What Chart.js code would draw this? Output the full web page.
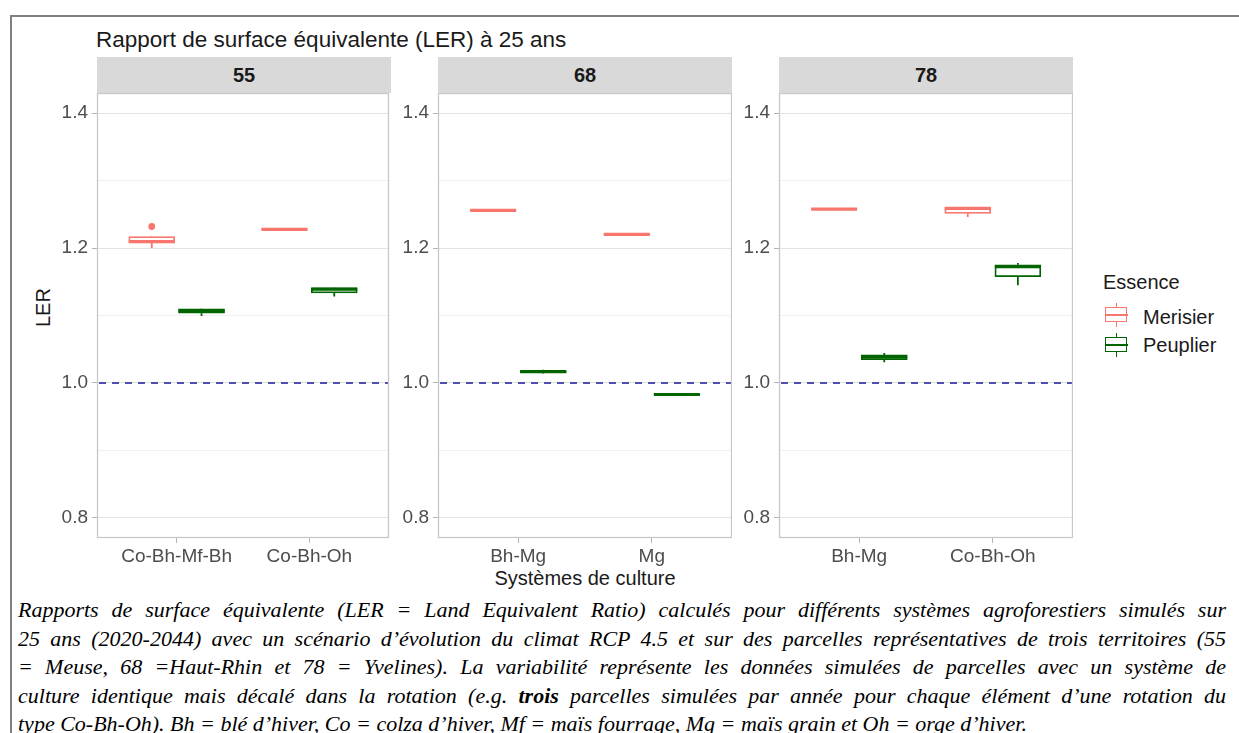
<!DOCTYPE html>
<html>
<head>
<meta charset="utf-8">
<script src="https://cdn.jsdelivr.net/npm/chart.js@4.4.0/dist/chart.umd.min.js"></script>
<style>
body { margin: 0; background: #fff; width: 1239px; height: 733px; overflow: hidden; position: relative;
  font-family: "Liberation Sans", Arial, sans-serif; }
#frame { position: absolute; left: 10px; top: 15px; width: 1250px; height: 740px;
  border-left: 2px solid #808080; border-top: 2px solid #808080; }
.txt { position: absolute; white-space: nowrap; }
.strip { position: absolute; top: 57px; height: 36px; width: 294px; background: #d9d9d9;
  font-weight: bold; font-size: 20px; line-height: 36px; text-align: center; color: #1a1a1a; }
canvas { position: absolute; }
.key { position: absolute; left: 1105px; width: 23px; height: 24px; }
.key .wh { position: absolute; left: 10.5px; top: 0; width: 1.6px; height: 24px; }
.key .bx { position: absolute; left: 0; top: 4px; width: 20px; height: 13px; background: #fff; border: 1.5px solid; }
.key .md { position: absolute; left: 0; top: 11px; width: 23px; height: 1.6px; }
#caption { position: absolute; left: 18px; top: 596px; width: 1208px;
  font-family: "Liberation Serif", "Times New Roman", serif; font-style: italic; font-size: 22px; color: #000; }
#caption div { height: 28.5px; line-height: 28.5px; text-align: justify; text-align-last: justify; white-space: nowrap; }
#caption div.last { text-align-last: left; }
</style>
</head>
<body>
<div id="frame"></div>
<div class="txt" style="left:96px;top:27px;font-size:22.5px;line-height:26px;color:#1a1a1a;">Rapport de surface équivalente (LER) à 25 ans</div>
<div class="txt" style="left:31px;top:303px;font-size:20px;line-height:24px;color:#1a1a1a;transform:rotate(-90deg);transform-origin:center;width:24px;text-align:center;">LER</div>
<div class="txt" style="left:435px;top:566px;width:300px;text-align:center;font-size:20px;line-height:24px;color:#1a1a1a;">Systèmes de culture</div>

<div class="txt" style="left:1103px;top:270px;font-size:20px;line-height:24px;color:#1a1a1a;">Essence</div>
<div class="key" style="top:303px;">
  <div class="wh" style="background:#F8766D"></div><div class="bx" style="border-color:#F8766D"></div><div class="md" style="background:#F8766D"></div>
</div>
<div class="txt" style="left:1143px;top:305px;font-size:20px;line-height:24px;color:#1a1a1a;">Merisier</div>
<div class="key" style="top:333px;">
  <div class="wh" style="background:#006400"></div><div class="bx" style="border-color:#006400"></div><div class="md" style="background:#006400"></div>
</div>
<div class="txt" style="left:1143px;top:333px;font-size:20px;line-height:24px;color:#1a1a1a;">Peuplier</div>

<div id="panels"></div>

<div id="caption">
<div>Rapports de surface équivalente (LER = Land Equivalent Ratio) calculés pour différents systèmes agroforestiers simulés sur</div>
<div>25 ans (2020-2044) avec un scénario d&rsquo;évolution du climat RCP 4.5 et sur des parcelles représentatives de trois territoires (55</div>
<div>= Meuse, 68 =Haut-Rhin et 78 = Yvelines). La variabilité représente les données simulées de parcelles avec un système de</div>
<div>culture identique mais décalé dans la rotation (e.g. <b>trois</b> parcelles simulées par année pour chaque élément d&rsquo;une rotation du</div>
<div class="last">type Co-Bh-Oh). Bh = blé d&rsquo;hiver, Co = colza d&rsquo;hiver, Mf = maïs fourrage, Mg = maïs grain et Oh = orge d&rsquo;hiver.</div>
</div>

<script>
// facets and categories
const panels = ['55', '68', '78'];
const systems = [['Co-Bh-Mf-Bh', 'Co-Bh-Oh'], ['Bh-Mg', 'Mg'], ['Bh-Mg', 'Co-Bh-Oh']];
const yTicks = [0.8, 0.9, 1.0, 1.1, 1.2, 1.3, 1.4];
const refLine = 1.0;

// box stats, two per facet in order 55, 68, 78
const merisierMin = [1.2000, 1.2270, 1.2552, 1.2197, 1.2572, 1.2460];
const merisierQ1  = [1.2075, 1.2274, 1.2555, 1.2200, 1.2575, 1.2515];
const merisierMed = [1.2095, 1.2278, 1.2558, 1.2203, 1.2578, 1.2590];
const merisierQ3  = [1.2170, 1.2282, 1.2561, 1.2206, 1.2581, 1.2605];
const merisierMax = [1.2180, 1.2285, 1.2564, 1.2209, 1.2584, 1.2610];
const merisierOut = [[1.232], [], [], [], [], []];

const peuplierMin = [1.0993, 1.1280, 1.0140, 0.9822, 1.0306, 1.1447];
const peuplierQ1  = [1.1035, 1.1335, 1.0152, 0.9825, 1.0345, 1.1575];
const peuplierMed = [1.1070, 1.1390, 1.0168, 0.9828, 1.0385, 1.1725];
const peuplierQ3  = [1.1100, 1.1410, 1.0182, 0.9831, 1.0415, 1.1753];
const peuplierMax = [1.1105, 1.1415, 1.0195, 0.9834, 1.0445, 1.1778];
const peuplierOut = [[], [], [], [], [], []];

const colMerisier = '#F8766D';
const colPeuplier = '#006400';

const panelLeft = [97, 438, 779];
const panelTop = 93;
const panelW = 294, panelH = 445;
const axisW = 41, axisH = 34;

const boxPlugin = {
  id: 'boxes',
  afterDatasetsDraw(chart) {
    const ctx = chart.ctx;
    const y = chart.scales.y;
    const area = chart.chartArea;
    chart.data.datasets.forEach((ds, di) => {
      if (!ds.stats) return;
      const meta = chart.getDatasetMeta(di);
      meta.data.forEach((el, i) => {
        const s = ds.stats[i];
        const half = el.width / 2;
        ctx.save();
        ctx.strokeStyle = ds.borderColor;
        ctx.lineWidth = 1.8;
        ctx.beginPath();
        ctx.moveTo(el.x, y.getPixelForValue(s[3]));
        ctx.lineTo(el.x, y.getPixelForValue(s[4]));
        ctx.moveTo(el.x, y.getPixelForValue(s[1]));
        ctx.lineTo(el.x, y.getPixelForValue(s[0]));
        ctx.stroke();
        ctx.lineWidth = 3.2;
        ctx.beginPath();
        ctx.moveTo(el.x - half, y.getPixelForValue(s[2]));
        ctx.lineTo(el.x + half, y.getPixelForValue(s[2]));
        ctx.stroke();
        ctx.restore();
      });
    });
    // reference line
    const yr = y.getPixelForValue(refLine);
    ctx.save();
    ctx.strokeStyle = '#4f4fb0';
    ctx.lineWidth = 2;
    ctx.setLineDash([7, 6]);
    ctx.beginPath();
    ctx.moveTo(area.left + 2, yr);
    ctx.lineTo(area.right, yr);
    ctx.stroke();
    ctx.restore();
  },
  afterDraw(chart) {
    const a = chart.chartArea;
    const ctx = chart.ctx;
    ctx.save();
    ctx.strokeStyle = '#c8c8c8';
    ctx.lineWidth = 1.3;
    ctx.strokeRect(Math.round(a.left) + 0.5, Math.round(a.top) + 0.5, Math.round(a.right - a.left) - 1, Math.round(a.bottom - a.top) - 1);
    ctx.restore();
  }
};

function isMajor(v) { return Math.round(v * 10) % 2 === 0; }

function boxData(p, q1, q3, min, med, max, offset) {
  const pts = [], st = [];
  for (let j = 0; j < 2; j++) {
    const k = p * 2 + j;
    pts.push({ x: j + 1 + offset, y: [q1[k], q3[k]] });
    st.push([min[k], q1[k], med[k], q3[k], max[k]]);
  }
  return { pts, st };
}

function outData(p, outs, offset) {
  const pts = [];
  for (let j = 0; j < 2; j++) {
    outs[p * 2 + j].forEach(v => pts.push({ x: j + 1 + offset, y: v }));
  }
  return pts;
}

const holder = document.getElementById('panels');
panels.forEach((name, p) => {
  const strip = document.createElement('div');
  strip.className = 'strip';
  strip.style.left = panelLeft[p] + 'px';
  strip.style.width = panelW + 'px';
  strip.textContent = name;
  holder.appendChild(strip);

  const cv = document.createElement('canvas');
  cv.width = axisW + panelW;
  cv.height = panelH + axisH;
  cv.style.left = (panelLeft[p] - axisW) + 'px';
  cv.style.top = panelTop + 'px';
  holder.appendChild(cv);

  const m = boxData(p, merisierQ1, merisierQ3, merisierMin, merisierMed, merisierMax, -0.1875);
  const q = boxData(p, peuplierQ1, peuplierQ3, peuplierMin, peuplierMed, peuplierMax, 0.1875);

  const chart = new Chart(cv.getContext('2d'), {
    type: 'scatter',
    data: {
      datasets: [
        { type: 'bar', label: 'Merisier', data: m.pts, stats: m.st, grouped: false, barThickness: 46,
          backgroundColor: '#ffffff', borderColor: colMerisier, borderWidth: 1.8, borderSkipped: false },
        { type: 'bar', label: 'Peuplier', data: q.pts, stats: q.st, grouped: false, barThickness: 46,
          backgroundColor: '#ffffff', borderColor: colPeuplier, borderWidth: 1.8, borderSkipped: false },
        { type: 'scatter', label: 'Merisier outliers', data: outData(p, merisierOut, -0.1875),
          pointRadius: 3.4, backgroundColor: colMerisier, borderWidth: 0 },
        { type: 'scatter', label: 'Peuplier outliers', data: outData(p, peuplierOut, 0.1875),
          pointRadius: 3.4, backgroundColor: colPeuplier, borderWidth: 0 }
      ]
    },
    options: {
      responsive: false,
      animation: false,
      layout: { padding: 0 },
      plugins: { legend: { display: false }, tooltip: { enabled: false } },
      scales: {
        x: {
          type: 'linear', min: 0.4, max: 2.6, offset: false,
          afterBuildTicks: s => { s.ticks = [{ value: 1 }, { value: 2 }]; },
          afterFit: s => { s.height = axisH; s.paddingLeft = 0; s.paddingRight = 0; },
          ticks: { callback: v => systems[p][Math.round(v) - 1], autoSkip: false, maxRotation: 0,
            color: '#4d4d4d', font: { size: 19, family: 'Liberation Sans' }, padding: 2 },
          grid: { drawOnChartArea: false, offset: false, tickLength: 5, tickColor: '#b3b3b3' },
          border: { display: false }
        },
        y: {
          type: 'linear', min: 0.77, max: 1.43, beginAtZero: false,
          afterBuildTicks: s => { s.ticks = yTicks.map(v => ({ value: v })); },
          afterFit: s => { s.width = axisW; s.paddingTop = 0; s.paddingBottom = 0; },
          ticks: { callback: v => isMajor(v) ? v.toFixed(1) : '', color: '#4d4d4d',
            font: { size: 19, family: 'Liberation Sans' }, padding: 4 },
          grid: {
            color: c => isMajor(c.tick.value) ? '#e2e2e2' : '#f0f0f0',
            tickColor: c => isMajor(c.tick.value) ? '#b3b3b3' : 'rgba(0,0,0,0)',
            tickLength: 5, lineWidth: 1
          },
          border: { display: false }
        }
      }
    },
    plugins: [boxPlugin]
  });
  // make the plotting area the facet's size, then put it where the facet sits
  const dh = panelH - (chart.chartArea.bottom - chart.chartArea.top);
  const dw = panelW - (chart.chartArea.right - chart.chartArea.left);
  if (Math.abs(dh) > 0.5 || Math.abs(dw) > 0.5) {
    chart.resize(cv.width + dw, cv.height + dh);
  }
  cv.style.left = (panelLeft[p] - chart.chartArea.left) + 'px';
  cv.style.top = (panelTop - chart.chartArea.top) + 'px';
});
</script>
</body>
</html>
